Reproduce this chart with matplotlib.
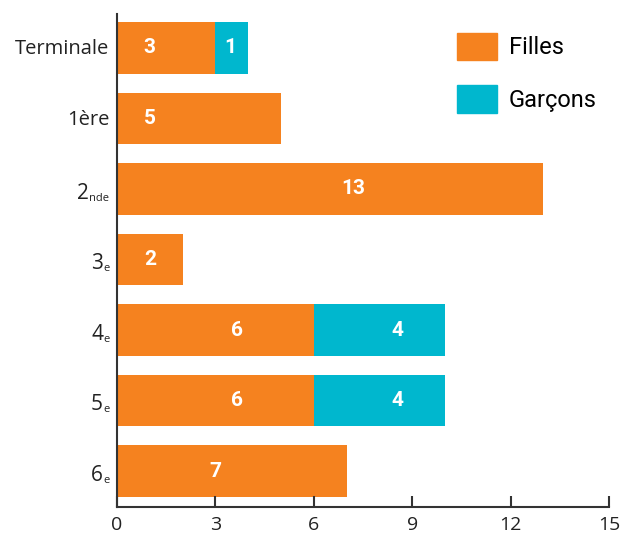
import matplotlib.pyplot as plt
from matplotlib.patches import Patch

plt.rcParams['font.family'] = ['Open Sans', 'DejaVu Sans']

# classes, bottom to top: (main part, small part written after it)
class_main = ["6", "5", "4", "3", "2", "1ère", "Terminale"]
class_sub = ["e", "e", "e", "e", "nde", "", ""]
filles = [7, 6, 6, 2, 13, 5, 3]
garcons = [0, 4, 4, 0, 0, 0, 1]

# label positions along the bar
filles_lab_x = [3.0, 3.65, 3.65, 1.0, 7.2, 1.0, 1.0]
garcons_lab_x = [None, 8.55, 8.55, None, None, None, 3.45]

orange = "#F5821F"
cyan = "#00B7CE"
text_col = "#222222"

fig = plt.figure(figsize=(6.24, 5.35), dpi=100)
ax = fig.add_axes([0.1875, 0.052, 0.7885, 0.922])

y = list(range(len(class_main)))
ax.barh(y, filles, height=0.73, color=orange)
ax.barh(y, garcons, left=filles, height=0.73, color=cyan)

for i in y:
    ax.text(filles_lab_x[i], i, str(filles[i]), color="white", fontsize=15,
            family="Roboto", fontweight="bold", ha="center", va="center")
    if garcons[i] > 0:
        ax.text(garcons_lab_x[i], i, str(garcons[i]), color="white", fontsize=15,
                family="Roboto", fontweight="bold", ha="center", va="center")

ax.set_xlim(0, 15)
ax.set_ylim(-0.51, 6.48)
ax.set_xticks([0, 3, 6, 9, 12, 15])
ax.set_yticks(y)
ax.set_yticklabels([])

# y labels drawn by hand so the small part can sit low and small
for i in y:
    if class_sub[i]:
        sub = ax.annotate(class_sub[i], xy=(0, i), xycoords=("axes fraction", "data"),
                          xytext=(-5.5, -8.5), textcoords="offset points",
                          ha="right", va="baseline", fontsize=8, color=text_col)
        ax.annotate(class_main[i], xy=(0, 0), xycoords=sub, ha="right", va="bottom",
                    fontsize=15, color=text_col)
    else:
        ax.annotate(class_main[i], xy=(0, i), xycoords=("axes fraction", "data"),
                    xytext=(-5.5, -1), textcoords="offset points",
                    ha="right", va="center", fontsize=14.5, color=text_col)

for s in ["top", "right"]:
    ax.spines[s].set_visible(False)
for s in ["left", "bottom"]:
    ax.spines[s].set_linewidth(1.5)
    ax.spines[s].set_color("#333333")

ax.tick_params(axis="x", direction="in", length=8, width=1.5, color="#333333",
               labelsize=14, labelcolor=text_col, pad=6)
ax.tick_params(axis="y", length=0)

handles = [Patch(color=orange, label="Filles"), Patch(color=cyan, label="Garçons")]
ax.legend(handles=handles, loc="upper left", bbox_to_anchor=(0.648, 1.005), frameon=False,
          prop={"family": "Roboto", "size": 17}, handlelength=1.7, handleheight=1.42,
          labelspacing=1.05, handletextpad=0.5)

fig.savefig("out.png", dpi=100)
